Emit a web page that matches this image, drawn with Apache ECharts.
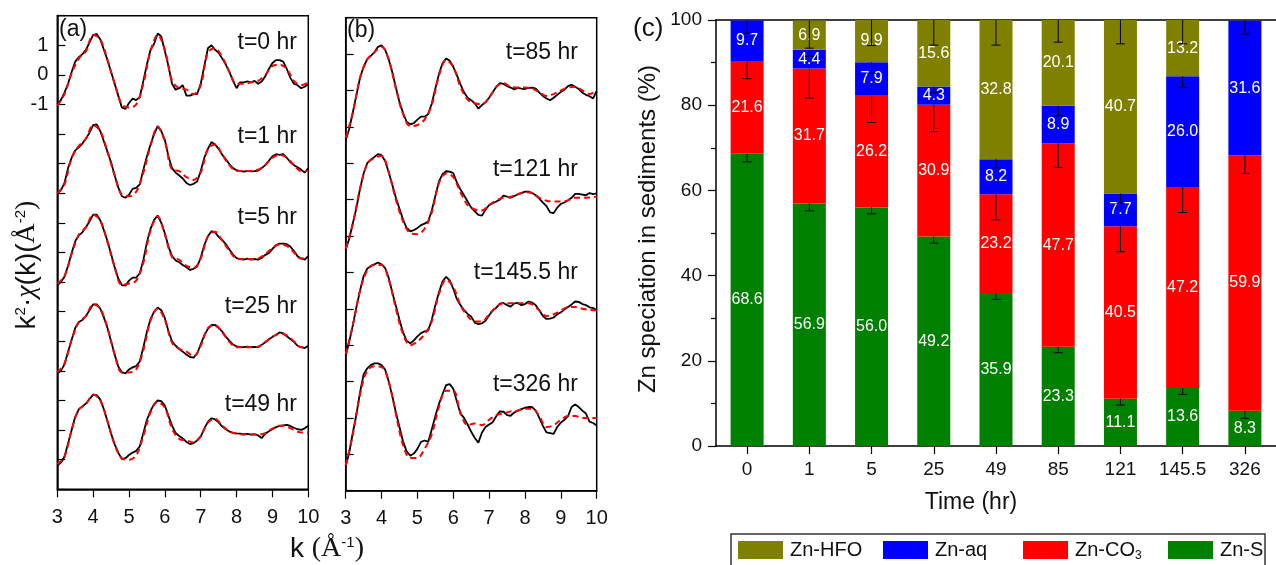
<!DOCTYPE html>
<html><head><meta charset="utf-8">
<script src="https://cdn.jsdelivr.net/npm/echarts@6/dist/echarts.min.js"></script>
<style>html,body{margin:0;padding:0;background:#fff}#c{width:1276px;height:565px}</style>
</head><body><div id="c"></div>
<script>
// ---- EXAFS k grid (data sampled every 0.1, fits every 0.2) ----
const kData = [3.0,3.1,3.2,3.3,3.4,3.5,3.6,3.7,3.8,3.9,4.0,4.1,4.2,4.3,4.4,4.5,4.6,4.7,4.8,4.9,5.0,5.1,5.2,5.3,5.4,5.5,5.6,5.7,5.8,5.9,6.0,6.1,6.2,6.3,6.4,6.5,6.6,6.7,6.8,6.9,7.0,7.1,7.2,7.3,7.4,7.5,7.6,7.7,7.8,7.9,8.0,8.1,8.2,8.3,8.4,8.5,8.6,8.7,8.8,8.9,9.0,9.1,9.2,9.3,9.4,9.5,9.6,9.7,9.8,9.9,10.0];
const kFit = [3.0,3.2,3.4,3.6,3.8,4.0,4.2,4.4,4.6,4.8,5.0,5.2,5.4,5.6,5.8,6.0,6.2,6.4,6.6,6.8,7.0,7.2,7.4,7.6,7.8,8.0,8.2,8.4,8.6,8.8,9.0,9.2,9.4,9.6,9.8,10.0];

// panel (a)
const aLabels = ['t=0 hr','t=1 hr','t=5 hr','t=25 hr','t=49 hr'];
const aOffsets = [0,-3,-6,-9,-12];
const a0Data = [-1.0,-0.85,-0.6,-0.3,0.1,0.45,0.6,0.7,0.85,1.1,1.35,1.38,1.2,0.85,0.5,0.1,-0.3,-0.7,-1.1,-1.15,-0.95,-0.8,-0.85,-0.75,-0.2,0.35,0.85,1.05,1.4,1.3,0.8,0.3,-0.3,-0.5,-0.45,-0.35,-0.7,-0.7,-0.65,-0.65,-0.3,0.3,0.9,1.0,0.85,0.75,0.55,0.35,0.1,-0.2,-0.45,-0.25,-0.25,-0.22,-0.25,-0.2,-0.3,-0.22,-0.05,0.2,0.4,0.5,0.5,0.45,0.2,-0.1,-0.3,-0.35,-0.45,-0.4,-0.3];
const a0Fit = [-1.05,-0.65,0.05,0.55,0.8,1.35,1.2,0.5,-0.3,-1.0,-1.1,-1.0,-0.3,0.8,1.35,0.85,-0.2,-0.45,-0.5,-0.65,-0.35,0.75,0.9,0.6,0.1,-0.3,-0.3,-0.25,-0.2,0.0,0.3,0.35,0.2,-0.2,-0.35,-0.25];
const a1Data = [-1.0,-0.9,-0.65,-0.15,0.2,0.45,0.55,0.68,0.85,1.05,1.3,1.33,1.1,0.75,0.4,0.05,-0.4,-0.8,-1.1,-1.15,-1.05,-0.85,-0.82,-0.7,-0.2,0.25,0.65,1.0,1.27,1.1,0.8,0.25,-0.15,-0.3,-0.4,-0.5,-0.65,-0.72,-0.68,-0.6,-0.25,0.2,0.5,0.73,0.65,0.5,0.3,0.15,-0.02,-0.15,-0.22,-0.25,-0.27,-0.24,-0.26,-0.25,-0.23,-0.15,-0.05,0.1,0.25,0.32,0.3,0.32,0.2,0.05,-0.05,-0.12,-0.2,-0.3,-0.15];
const a1Fit = [-1.0,-0.7,0.2,0.6,0.85,1.3,1.1,0.4,-0.4,-1.05,-1.1,-0.95,-0.3,0.6,1.25,0.75,-0.2,-0.25,-0.45,-0.55,-0.3,0.5,0.65,0.3,-0.05,-0.25,-0.25,-0.25,-0.2,-0.05,0.2,0.3,0.2,-0.05,-0.25,-0.25];
const a2Data = [-1.1,-1.0,-0.82,-0.45,-0.02,0.38,0.58,0.68,0.86,1.05,1.28,1.28,1.08,0.75,0.38,-0.05,-0.5,-0.88,-1.1,-1.12,-0.95,-0.85,-0.85,-0.7,-0.25,0.35,0.8,1.1,1.25,1.0,0.65,0.2,-0.12,-0.27,-0.33,-0.42,-0.5,-0.59,-0.55,-0.47,-0.18,0.25,0.55,0.72,0.68,0.53,0.42,0.28,0.1,-0.07,-0.19,-0.22,-0.24,-0.21,-0.24,-0.22,-0.24,-0.18,-0.08,-0.02,0.12,0.25,0.3,0.3,0.28,0.2,0.05,-0.13,-0.2,-0.24,-0.12];
const a2Fit = [-1.05,-0.8,-0.05,0.6,0.85,1.28,1.08,0.35,-0.5,-1.1,-1.05,-0.95,-0.35,0.75,1.22,0.6,-0.15,-0.25,-0.45,-0.52,-0.2,0.55,0.7,0.4,0.05,-0.2,-0.22,-0.22,-0.2,-0.05,0.15,0.28,0.22,0.0,-0.2,-0.2];
const a3Data = [-1.08,-1.0,-0.78,-0.35,0.05,0.45,0.65,0.72,0.86,1.05,1.25,1.25,1.1,0.8,0.45,0.0,-0.45,-0.85,-1.05,-1.08,-0.95,-0.88,-0.84,-0.68,-0.2,0.32,0.75,1.0,1.14,1.05,0.78,0.34,0.0,-0.15,-0.26,-0.35,-0.45,-0.53,-0.55,-0.42,-0.1,0.2,0.42,0.55,0.55,0.45,0.33,0.15,0.02,-0.11,-0.17,-0.19,-0.2,-0.18,-0.2,-0.19,-0.2,-0.12,-0.03,0.06,0.15,0.22,0.3,0.27,0.17,0.08,-0.02,-0.15,-0.2,-0.23,-0.15];
const a3Fit = [-1.05,-0.75,0.05,0.65,0.85,1.25,1.1,0.45,-0.45,-1.05,-1.05,-0.95,-0.3,0.7,1.1,0.72,-0.05,-0.25,-0.35,-0.5,-0.15,0.45,0.55,0.3,-0.02,-0.2,-0.2,-0.2,-0.18,-0.03,0.15,0.25,0.2,0.0,-0.2,-0.2];
const a4Data = [-1.2,-1.1,-0.9,-0.45,0.0,0.45,0.7,0.8,0.9,1.05,1.2,1.18,1.03,0.7,0.3,-0.12,-0.48,-0.76,-0.98,-0.95,-0.84,-0.76,-0.7,-0.55,-0.1,0.35,0.65,0.88,1.0,0.98,0.83,0.48,0.15,-0.1,-0.2,-0.28,-0.4,-0.47,-0.44,-0.35,-0.22,0.05,0.28,0.4,0.36,0.26,0.12,0.03,-0.05,-0.09,-0.11,-0.12,-0.14,-0.13,-0.15,-0.14,-0.18,-0.27,-0.12,-0.04,0.03,0.1,0.14,0.16,0.18,0.14,0.08,0.03,0.01,0.06,0.15];
const a4Fit = [-1.15,-0.9,0.0,0.7,0.88,1.2,1.0,0.3,-0.5,-0.95,-1.0,-0.85,-0.2,0.6,0.95,0.75,0.05,-0.3,-0.35,-0.42,-0.2,0.25,0.38,0.15,-0.05,-0.12,-0.15,-0.15,-0.15,-0.1,0.05,0.15,0.12,0.0,-0.08,-0.08];

// panel (b)
const bLabels = ['t=85 hr','t=121 hr','t=145.5 hr','t=326 hr'];
const bOffsets = [0,-3,-6,-9];
const b0Data = [-1.37,-1.05,-0.6,-0.12,0.35,0.65,0.86,0.95,1.05,1.2,1.24,1.12,0.85,0.5,0.08,-0.32,-0.62,-0.86,-0.93,-0.9,-0.8,-0.72,-0.72,-0.65,-0.36,0.05,0.45,0.75,0.88,0.82,0.65,0.42,0.17,-0.05,-0.2,-0.27,-0.35,-0.5,-0.4,-0.32,-0.2,-0.05,0.1,0.2,0.18,0.12,0.08,0.03,0.07,0.05,0.04,0.07,0.08,0.05,-0.06,-0.15,-0.22,-0.27,-0.2,-0.12,-0.04,0.02,0.12,0.16,0.1,0.04,-0.06,-0.12,-0.16,-0.22,-0.01];
const b0Fit = [-1.3,-0.6,0.35,0.85,1.05,1.2,0.85,0.05,-0.65,-0.98,-0.95,-0.8,-0.4,0.4,0.83,0.65,0.1,-0.25,-0.35,-0.38,-0.2,0.1,0.2,0.1,0.08,0.08,0.05,-0.05,-0.15,-0.1,0.0,0.08,0.1,0.0,-0.1,0.0];
const b1Data = [-1.38,-1.07,-0.65,-0.22,0.3,0.72,1.0,1.1,1.17,1.25,1.22,1.06,0.75,0.4,0.05,-0.25,-0.55,-0.78,-0.87,-0.84,-0.78,-0.7,-0.66,-0.6,-0.3,0.1,0.5,0.7,0.78,0.77,0.73,0.47,0.28,0.12,-0.05,-0.22,-0.32,-0.42,-0.44,-0.28,-0.15,-0.1,-0.05,0.0,0.11,0.08,0.05,0.1,0.14,0.18,0.22,0.22,0.18,0.12,0.03,-0.08,-0.18,-0.35,-0.37,-0.22,-0.12,-0.08,-0.02,0.05,0.16,0.16,0.14,0.12,0.18,0.15,0.17];
const b1Fit = [-1.35,-0.65,0.3,0.98,1.15,1.2,0.75,0.0,-0.6,-0.92,-0.95,-0.8,-0.35,0.45,0.72,0.62,0.2,-0.15,-0.27,-0.3,-0.15,-0.02,0.05,0.08,0.15,0.2,0.18,0.05,-0.03,-0.05,-0.05,-0.02,0.05,0.05,0.06,0.08];
const b2Data = [-1.3,-0.9,-0.45,0.05,0.5,0.9,1.1,1.18,1.22,1.27,1.22,1.12,0.85,0.45,0.08,-0.3,-0.65,-0.88,-0.95,-0.87,-0.76,-0.67,-0.62,-0.6,-0.3,0.1,0.45,0.75,0.88,0.78,0.55,0.27,0.1,-0.04,-0.14,-0.22,-0.38,-0.42,-0.4,-0.33,-0.18,-0.05,0.03,0.14,0.16,0.1,0.06,0.15,0.16,0.1,0.13,0.2,0.17,0.1,-0.05,-0.2,-0.28,-0.27,-0.24,-0.15,-0.1,-0.02,0.05,0.12,0.2,0.19,0.13,0.1,0.04,0.02,-0.04];
const b2Fit = [-1.25,-0.45,0.5,1.05,1.2,1.2,0.8,0.0,-0.7,-1.0,-0.9,-0.7,-0.35,0.4,0.8,0.6,0.1,-0.2,-0.35,-0.35,-0.15,0.05,0.15,0.15,0.15,0.15,0.12,-0.05,-0.2,-0.15,-0.05,0.05,0.05,0.0,-0.03,-0.05];
const b3Data = [-1.33,-0.95,-0.4,0.1,0.7,1.2,1.36,1.45,1.5,1.5,1.45,1.33,1.0,0.6,0.15,-0.25,-0.65,-0.92,-1.04,-0.98,-0.85,-0.66,-0.62,-0.66,-0.32,0.05,0.38,0.65,0.9,0.93,0.8,0.45,0.12,0.0,-0.18,-0.38,-0.55,-0.68,-0.4,-0.25,-0.18,-0.12,0.05,0.18,0.17,0.08,0.06,0.15,0.2,0.24,0.28,0.3,0.3,0.2,0.0,-0.22,-0.4,-0.42,-0.44,-0.25,-0.13,-0.05,0.05,0.3,0.37,0.3,0.2,0.12,-0.1,-0.14,-0.21];
const b3Fit = [-1.3,-0.45,0.65,1.3,1.42,1.4,1.0,0.1,-0.75,-1.1,-1.1,-0.85,-0.45,0.3,0.75,0.75,0.15,-0.2,-0.15,-0.2,-0.05,0.08,0.12,0.18,0.2,0.25,0.25,0.05,-0.25,-0.2,-0.05,0.05,0.05,0.0,0.0,0.0];

// panel (c)
const timeCats = ['0','1','5','25','49','85','121','145.5','326'];
const znS   = [68.6,56.9,56.0,49.2,35.9,23.3,11.1,13.6,8.3];
const znCO3 = [21.6,31.7,26.2,30.9,23.2,47.7,40.5,47.2,59.9];
const znAq  = [9.7,4.4,7.9,4.3,8.2,8.9,7.7,26.0,31.6];
const znHFO = [null,6.9,9.9,15.6,32.8,20.1,40.7,13.2,null];
const errS   = [1.9,1.7,1.5,1.6,1.5,1.4,1.5,1.5,1.8];
const errCO3 = [4.0,6.9,6.3,6.3,6.0,5.6,6.0,6.0,4.2];
const errAq  = [3.0,1.5,2.6,1.5,2.0,2.4,2.3,2.6,3.1];
const errHFO = [null,6.5,6.0,5.9,5.9,5.2,5.6,5.6,null];
const yTicksC = [0,20,40,60,80,100];
const legendNames = ['Zn-HFO','Zn-aq','Zn-CO3','Zn-S'];

const SANS = 'Liberation Sans';
const SERIF = 'Liberation Serif';
const TXT = '#111';

const aData = [a0Data,a1Data,a2Data,a3Data,a4Data];
const aFit = [a0Fit,a1Fit,a2Fit,a3Fit,a4Fit];
const bData = [b0Data,b1Data,b2Data,b3Data];
const bFit = [b0Fit,b1Fit,b2Fit,b3Fit];

const series = [];
function addSpectra(dataArr, fitArr, offsets, axisIdx) {
  dataArr.forEach((arr, j) => {
    series.push({type:'line', xAxisIndex:axisIdx, yAxisIndex:axisIdx, symbol:'none', silent:true,
      data: kData.map((k,i)=>[k, arr[i]+offsets[j]]),
      lineStyle:{color:'#000', width:1.8}, z:3});
  });
  fitArr.forEach((arr, j) => {
    series.push({type:'line', xAxisIndex:axisIdx, yAxisIndex:axisIdx, symbol:'none', silent:true, smooth:0.35,
      data: kFit.map((k,i)=>[k, arr[i]+offsets[j]]),
      lineStyle:{color:'#ff0000', width:2, type:[6,4]}, z:4});
  });
}
addSpectra(aData, aFit, aOffsets, 0);
addSpectra(bData, bFit, bOffsets, 1);

const barDefs = [
  {name:'Zn-S', data:znS, color:'#008000'},
  {name:'Zn-CO3', data:znCO3, color:'#ff0000'},
  {name:'Zn-aq', data:znAq, color:'#0000ff'},
  {name:'Zn-HFO', data:znHFO, color:'#808000'}
];
barDefs.forEach(b => {
  series.push({type:'bar', name:b.name, stack:'zn', xAxisIndex:2, yAxisIndex:2, barWidth:33,
    data: b.data.map(v => v == null ? '-' : v),
    itemStyle:{color:b.color},
    label:{show:true, position:'inside', color:'#fff', fontFamily:SANS, fontSize:16,
      formatter: p => (typeof p.value === 'number') ? p.value.toFixed(1) : ''}
  });
});

// error bars: drawn downward from each segment's top
const errData = [];
const segVals = [znS, znCO3, znAq, znHFO];
const segErr = [errS, errCO3, errAq, errHFO];
timeCats.forEach((c, i) => {
  let cum = 0;
  segVals.forEach((vals, s) => {
    const v = vals[i];
    if (v == null) return;
    cum += v;
    const e = segErr[s][i];
    if (e == null) return;
    const top = Math.min(cum, 100);
    errData.push([i, top, top - e]);
  });
});
series.push({type:'custom', xAxisIndex:2, yAxisIndex:2, z:10, silent:true,
  data: errData,
  renderItem: (params, api) => {
    const p1 = api.coord([api.value(0), api.value(1)]);
    const p2 = api.coord([api.value(0), api.value(2)]);
    const st = {stroke:'#000', lineWidth:1};
    return {type:'group', children:[
      {type:'line', shape:{x1:p1[0], y1:p1[1], x2:p2[0], y2:p2[1]}, style:st},
      {type:'line', shape:{x1:p2[0]-4.5, y1:p2[1], x2:p2[0]+4.5, y2:p2[1]}, style:st}
    ]};
  }
});

const axLine = {show:true, onZero:false, lineStyle:{color:'#000', width:1.5}};
const kAxis = (gi) => ({type:'value', gridIndex:gi, min:3, max:10, interval:1,
  axisLine:axLine, axisTick:{show:true, inside:false, length:8, lineStyle:{color:'#000', width:1.2}},
  axisLabel:{color:TXT, fontFamily:SANS, fontSize:20, margin:18}, splitLine:{show:false}});

const legendX = [738, 883, 1023, 1168];
const legends = legendNames.map((n, i) => ({
  left:legendX[i], top:540, orient:'horizontal', itemWidth:45, itemHeight:18, icon:'rect',
  padding:0, selectedMode:false, data:[n], itemGap:0,
  formatter: nm => nm === 'Zn-CO3' ? 'Zn-CO{sub|3}' : nm,
  textStyle:{color:TXT, fontFamily:SANS, fontSize:20, padding:[0,0,0,2],
    rich:{sub:{fontFamily:SANS, fontSize:12, verticalAlign:'bottom', padding:[12,0,0,0], color:TXT}}}
}));

const option = {
  animation:false,
  backgroundColor:'#fff',
  grid:[
    {left:57.3, top:15.7, width:251, height:473.6, show:true, borderColor:'#000', borderWidth:1.5, containLabel:false},
    {left:345.7, top:17.7, width:251, height:473, show:true, borderColor:'#000', borderWidth:1.5, containLabel:false},
    {left:716, top:20, width:571.5, height:426, containLabel:false}
  ],
  xAxis:[
    kAxis(0), kAxis(1),
    {type:'category', gridIndex:2, data:timeCats,
      axisLine:axLine, axisTick:{show:true, alignWithLabel:true, length:8, lineStyle:{color:'#000', width:1.2}},
      axisLabel:{color:TXT, fontFamily:SANS, fontSize:19, margin:14},
      name:'Time (hr)', nameLocation:'middle', nameGap:45,
      nameTextStyle:{color:TXT, fontFamily:SANS, fontSize:23, padding:[0,50,0,0]}},
    {type:'category', gridIndex:2, position:'top', data:timeCats,
      axisLine:axLine, axisTick:{show:false}, axisLabel:{show:false}}
  ],
  yAxis:[
    {type:'value', gridIndex:0, min:-14, max:2, interval:1,
      axisLine:axLine, axisTick:{show:true, inside:true, length:8, lineStyle:{color:'#000', width:1.2}},
      axisLabel:{color:TXT, fontFamily:SANS, fontSize:20, margin:9,
        formatter: v => (v === 1 || v === 0 || v === -1) ? String(v) : ''},
      splitLine:{show:false}},
    {type:'value', gridIndex:1, min:-11, max:2, interval:1,
      axisLine:axLine, axisTick:{show:true, inside:true, length:8, lineStyle:{color:'#000', width:1.2}},
      axisLabel:{show:false}, splitLine:{show:false}},
    {type:'value', gridIndex:2, min:yTicksC[0], max:yTicksC[yTicksC.length-1], interval:20,
      axisLine:axLine,
      axisTick:{show:true, length:8, lineStyle:{color:'#000', width:1.2}},
      minorTick:{show:true, splitNumber:2, length:5, lineStyle:{color:'#000', width:1.2}},
      axisLabel:{color:TXT, fontFamily:SANS, fontSize:19, margin:14},
      splitLine:{show:false},
      name:'Zn speciation in sediments (%)', nameLocation:'middle', nameGap:56, nameRotate:90,
      nameTextStyle:{color:TXT, fontFamily:SANS, fontSize:24, padding:[0,0,0,8]}}
  ],
  legend: legends,
  graphic:[],
  series: series
};

const g = [];
g.push({type:'rect', shape:{x:731, y:534, width:534, height:45}, style:{fill:'none', stroke:'#333', lineWidth:1.5}, z:-1});
g.push({type:'text', left:59, top:18, style:{text:'(a)', fontFamily:SANS, fontSize:23, fill:TXT}});
g.push({type:'text', left:347, top:19, style:{text:'(b)', fontFamily:SANS, fontSize:23, fill:TXT}});
g.push({type:'text', left:633, top:16, style:{text:'(c)', fontFamily:SANS, fontSize:26, fill:TXT}});
const aLabelY = [43, 137, 218, 307, 405];
aLabels.forEach((t,i) => g.push({type:'text', x:297, y:aLabelY[i],
  style:{text:t, fontFamily:SANS, fontSize:23, fill:TXT, align:'right', verticalAlign:'middle'}}));
const bLabelY = [53, 170, 273, 385];
bLabels.forEach((t,i) => g.push({type:'text', x:578, y:bLabelY[i],
  style:{text:t, fontFamily:SANS, fontSize:23, fill:TXT, align:'right', verticalAlign:'middle'}}));
const richK = {
  k:{fontFamily:SANS, fontSize:28, fill:TXT},
  s:{fontFamily:SERIF, fontSize:28, fill:TXT},
  chi:{fontFamily:SERIF, fontStyle:'italic', fontSize:28, fill:TXT},
  sup:{fontFamily:SANS, fontSize:15, verticalAlign:'top', fill:TXT}
};
g.push({type:'text', x:327, y:549, style:{text:'{k|k }{s|(Å}{sup|-1}{s|)}', rich:richK, align:'center', verticalAlign:'middle', fill:TXT}});
g.push({type:'text', x:27, y:265, rotation:Math.PI/2,
  style:{text:'{k|k}{sup|2}{k|·}{chi|χ}{k|(k)(}{s|Å}{sup|-2}{s|)}', rich:richK, align:'center', verticalAlign:'middle', fill:TXT}});
option.graphic = g;

const chart = echarts.init(document.getElementById('c'), null, {renderer:'canvas'});
chart.setOption(option);
</script></body></html>
